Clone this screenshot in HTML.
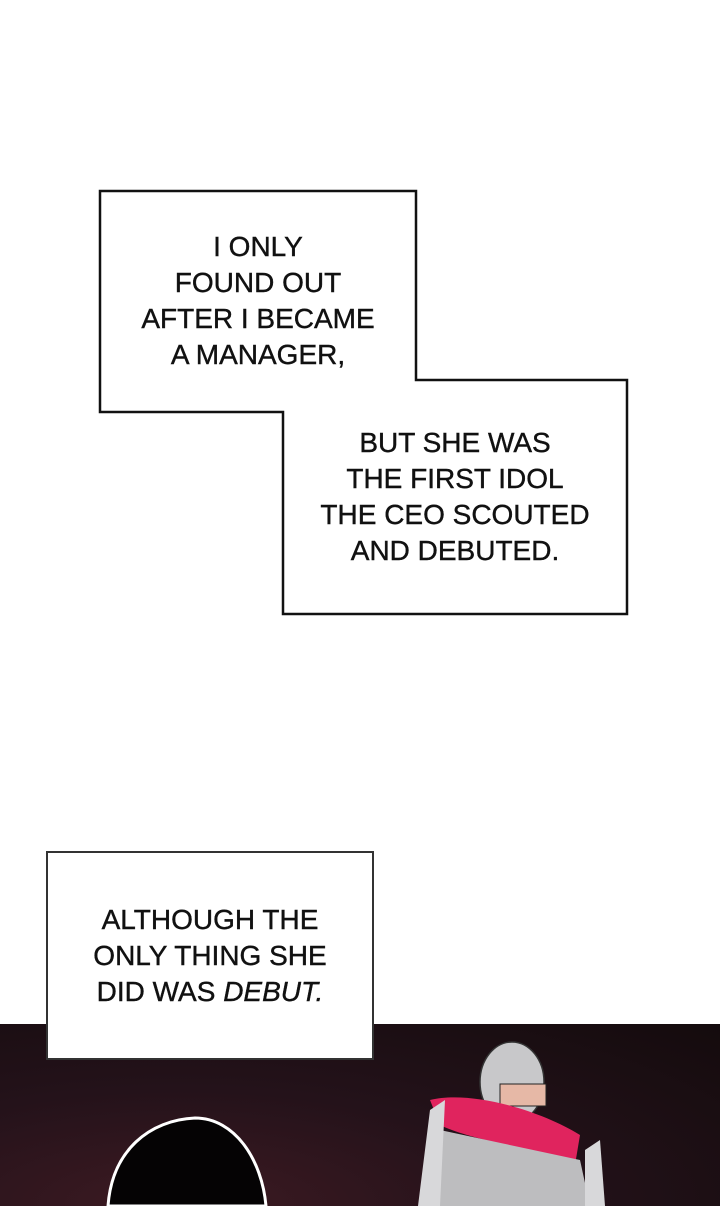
<!DOCTYPE html>
<html><head><style>
html,body{margin:0;padding:0;background:#fff;}
body{width:720px;height:1206px;position:relative;overflow:hidden;font-family:"Liberation Sans",sans-serif;}
.t{position:absolute;text-align:center;font-size:28px;line-height:36px;color:#111;-webkit-text-stroke:0.4px #111;}
</style></head><body>
<div style="position:absolute;left:0;top:1024px;width:720px;height:182px;background:radial-gradient(ellipse at 25% 100%,#3d1a22 0%,#24121a 45%,#140b0d 100%);"></div>
<svg width="720" height="1206" style="position:absolute;left:0;top:0">
 <polygon points="100,191 416,191 416,380 627,380 627,614 283,614 283,412 100,412" fill="#fff" stroke="#111" stroke-width="2.5"/>
 <rect x="47" y="852" width="326" height="207" fill="#fff" stroke="#333" stroke-width="2"/>
 <path d="M108,1206 C112,1150 150,1120 195,1118 C235,1118 262,1160 266,1206 Z" fill="#050304" stroke="#fff" stroke-width="3"/>
 <ellipse cx="512" cy="1082" rx="32" ry="40" fill="#c8c8ca" stroke="#333" stroke-width="1.5"/>
 <rect x="500" y="1084" width="46" height="22" fill="#e6b8a6" stroke="#222"/>
 <path d="M430,1100 C470,1090 540,1110 580,1135 L575,1165 C540,1150 470,1140 440,1125 Z" fill="#e0245e"/>
 <path d="M440,1130 L580,1160 L590,1206 L430,1206 Z" fill="#bdbdbf"/>
 <path d="M430,1110 L445,1100 L440,1206 L418,1206 Z" fill="#d8d8da"/>
 <path d="M585,1150 L600,1140 L605,1206 L585,1206 Z" fill="#d8d8da"/>
</svg>
<div class="t" style="left:100px;width:316px;top:229px">I ONLY<br>FOUND OUT<br>AFTER I BECAME<br>A MANAGER,</div>
<div class="t" style="left:283px;width:344px;top:425px">BUT SHE WAS<br>THE FIRST IDOL<br>THE CEO SCOUTED<br>AND DEBUTED.</div>
<div class="t" style="left:47px;width:326px;top:902px">ALTHOUGH THE<br>ONLY THING SHE<br>DID WAS <i>DEBUT.</i></div>
</body></html>
